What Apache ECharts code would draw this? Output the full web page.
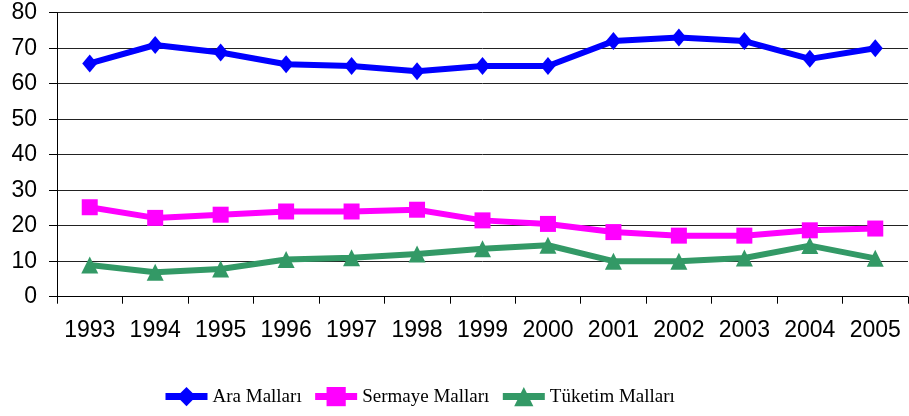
<!DOCTYPE html>
<html>
<head>
<meta charset="utf-8">
<script src="https://cdn.jsdelivr.net/npm/echarts@6/dist/echarts.min.js"></script>
<style>html,body{margin:0;padding:0;background:#fff}#c{width:909px;height:416px}</style>
</head>
<body>
<div id="c"></div>
<script>
var years = ['1993','1994','1995','1996','1997','1998','1999','2000','2001','2002','2003','2004','2005'];
var araMallari = [65.7, 70.9, 68.8, 65.5, 65, 63.5, 65, 65, 72, 73, 72, 67, 70];
var sermayeMallari = [25.2, 22.2, 23.1, 24, 24, 24.5, 21.5, 20.5, 18.2, 17.2, 17.2, 18.7, 19.2];
var tuketimMallari = [8.9, 6.9, 7.8, 10.5, 11, 12, 13.5, 14.5, 10, 10, 10.9, 14.4, 10.8];
var yTicks = [0, 80, 10];

var chart = echarts.init(document.getElementById('c'), null, {renderer: 'canvas'});
chart.setOption({
  animation: false,
  backgroundColor: '#fff',
  grid: {left: 57, right: 1, top: 12.7, bottom: 119.3, containLabel: false},
  legend: {
    left: 157, top: 382,
    itemWidth: 42, itemHeight: 24, itemGap: 10,
    lineStyle: {width: 7},
    textStyle: {fontFamily: '"Liberation Serif", "Times New Roman", serif', fontSize: 19, color: '#000'},
    data: ['Ara Malları', 'Sermaye Malları', 'Tüketim Malları']
  },
  xAxis: {
    type: 'category', data: years, boundaryGap: true,
    axisLine: {lineStyle: {color: '#000', width: 1}},
    axisTick: {show: true, length: 7, lineStyle: {color: '#000'}},
    axisLabel: {fontFamily: '"Liberation Sans", Arial, sans-serif', fontSize: 23, color: '#000', margin: 22, interval: 0},
    splitLine: {show: false}
  },
  yAxis: {
    type: 'value', min: yTicks[0], max: yTicks[1], interval: yTicks[2],
    axisLine: {show: true, lineStyle: {color: '#000', width: 1}},
    axisTick: {show: true, length: 8, lineStyle: {color: '#000'}},
    axisLabel: {fontFamily: '"Liberation Sans", Arial, sans-serif', fontSize: 23, color: '#000', margin: 20},
    splitLine: {show: true, lineStyle: {color: '#222', width: 1}}
  },
  series: [
    {name: 'Ara Malları', type: 'line', data: araMallari, color: '#0000ff',
     lineStyle: {width: 6, color: '#0000ff'}, symbol: 'diamond', symbolSize: [15, 18],
     itemStyle: {color: '#0000ff'}, showAllSymbol: true},
    {name: 'Sermaye Malları', type: 'line', data: sermayeMallari, color: '#ff00ff',
     lineStyle: {width: 6, color: '#ff00ff'}, symbol: 'rect', symbolSize: 16,
     itemStyle: {color: '#ff00ff'}, showAllSymbol: true},
    {name: 'Tüketim Malları', type: 'line', data: tuketimMallari, color: '#339966',
     lineStyle: {width: 6, color: '#339966'}, symbol: 'triangle', symbolSize: 17,
     itemStyle: {color: '#339966'}, showAllSymbol: true}
  ]
});
</script>
</body>
</html>
